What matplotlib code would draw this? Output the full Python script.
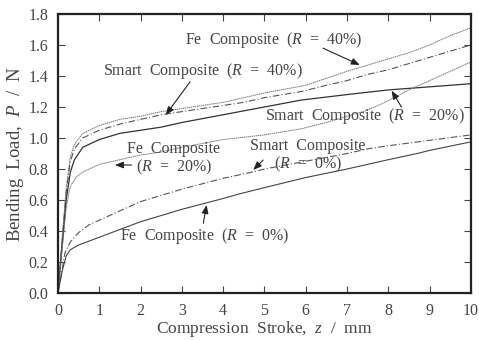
import numpy as np
import matplotlib.pyplot as plt

plt.rcParams['font.family'] = ['Liberation Serif', 'DejaVu Serif']
plt.rcParams['mathtext.fontset'] = 'custom'
plt.rcParams['mathtext.it'] = 'Liberation Serif:italic'
plt.rcParams['mathtext.rm'] = 'Liberation Serif'

# Data (z in mm, P in N)
fe40_z = [0, 0.1, 0.2, 0.3, 0.4, 0.6, 1, 1.5, 2, 2.5, 3, 4, 4.5, 5, 6, 7, 7.5, 8, 8.5, 9, 9.5, 10]
fe40_p = [0, 0.35, 0.68, 0.88, 0.96, 1.03, 1.08, 1.12, 1.14, 1.17, 1.19, 1.23, 1.26, 1.29, 1.34, 1.43, 1.47, 1.51, 1.55, 1.60, 1.66, 1.71]

sm40_z = [0, 0.1, 0.2, 0.3, 0.4, 0.6, 1, 1.5, 2, 2.5, 3, 4, 4.5, 5, 5.9, 6.5, 7, 7.5, 8, 8.5, 9, 9.5, 10]
sm40_p = [0, 0.33, 0.65, 0.85, 0.93, 1.0, 1.05, 1.09, 1.12, 1.15, 1.17, 1.21, 1.23, 1.26, 1.30, 1.34, 1.37, 1.41, 1.44, 1.48, 1.52, 1.56, 1.60]

sm20_z = [0, 0.1, 0.2, 0.3, 0.4, 0.6, 1, 1.5, 2, 2.5, 3, 4, 4.4, 5, 5.9, 7, 8, 9, 10]
sm20_p = [0, 0.3, 0.6, 0.78, 0.86, 0.94, 0.99, 1.03, 1.05, 1.07, 1.10, 1.15, 1.17, 1.20, 1.245, 1.28, 1.31, 1.33, 1.35]

fe20_z = [0, 0.1, 0.2, 0.3, 0.45, 0.6, 1, 1.5, 2, 2.5, 3, 4, 5, 5.9, 6.5, 7, 7.5, 8, 8.5, 9, 9.5, 10]
fe20_p = [0, 0.28, 0.55, 0.69, 0.75, 0.78, 0.83, 0.86, 0.89, 0.91, 0.94, 0.99, 1.02, 1.06, 1.10, 1.14, 1.18, 1.24, 1.31, 1.37, 1.43, 1.49]

sm0_z = [0, 0.1, 0.17, 0.3, 0.5, 0.75, 1, 1.5, 2, 3, 4, 4.7, 5, 6, 7, 7.5, 8, 9, 10]
sm0_p = [0, 0.15, 0.26, 0.33, 0.39, 0.44, 0.47, 0.53, 0.59, 0.67, 0.74, 0.78, 0.80, 0.85, 0.90, 0.93, 0.95, 0.985, 1.02]

fe0_z = [0, 0.1, 0.2, 0.3, 0.5, 1, 1.5, 2, 3, 4, 4.4, 5, 6, 7, 8, 8.7, 9, 10]
fe0_p = [0, 0.14, 0.24, 0.28, 0.31, 0.36, 0.41, 0.46, 0.54, 0.61, 0.64, 0.68, 0.745, 0.80, 0.86, 0.90, 0.92, 0.975]

# labels: text, text centre, arrow start, arrow tip
labels = ['Fe  Composite  ($R$  =  40%)',
          'Smart  Composite  ($R$  =  40%)',
          'Smart  Composite  ($R$  =  20%)',
          'Fe  Composite\n($R$  =  20%)',
          'Smart  Composite\n($R$  =  0%)',
          'Fe  Composite  ($R$  =  0%)']
label_xy = [(5.23, 1.632), (3.51, 1.434), (7.43, 1.142), (2.81, 0.865), (6.06, 0.884), (3.56, 0.368)]
arrow_from = [(6.42, 1.579), (3.20, 1.363), (8.32, 1.20), (1.78, 0.826), (4.97, 0.858), (3.52, 0.45)]
arrow_to = [(7.31, 1.471), (2.61, 1.148), (8.08, 1.305), (1.38, 0.826), (4.73, 0.794), (3.60, 0.568)]

fig = plt.figure(figsize=(4.79, 3.40), dpi=100)
ax = fig.add_axes([0.121, 0.138, 0.862, 0.821])

ax.plot(fe40_z, fe40_p, color='#777777', lw=0.7, ls=(0, (1.5, 0.6)))
ax.plot(sm40_z, sm40_p, color='#555555', lw=0.8, ls=(0, (6, 2, 1, 2)))
ax.plot(sm20_z, sm20_p, color='#333333', lw=0.9)
ax.plot(fe20_z, fe20_p, color='#777777', lw=0.7, ls=(0, (1.5, 0.6)))
ax.plot(sm0_z, sm0_p, color='#555555', lw=0.8, ls=(0, (6, 2, 1, 2)))
ax.plot(fe0_z, fe0_p, color='#444444', lw=0.8)

tc = '#444444'
for txt, xy in zip(labels, label_xy):
    ax.text(xy[0], xy[1], txt, ha='center', va='center', fontsize=11.5,
            color=tc, linespacing=1.0)
for a, b in zip(arrow_from, arrow_to):
    ax.annotate('', xy=b, xytext=a,
                arrowprops=dict(arrowstyle='-|>,head_length=0.5,head_width=0.2',
                                color='#222222', lw=0.8, mutation_scale=10,
                                shrinkA=0, shrinkB=0))

ax.set_xlim(0, 10)
ax.set_ylim(0, 1.8)
ax.set_xticks(np.arange(0, 11, 1))
ax.set_yticks(np.arange(0, 1.81, 0.2))
ax.set_yticklabels([f'{v:.1f}' for v in np.arange(0, 1.81, 0.2)])
ax.tick_params(direction='in', top=True, right=True, length=5, width=0.8,
               labelsize=11.5, colors='#444444', pad=7)
for s in ax.spines.values():
    s.set_linewidth(1.6)
    s.set_color('#222222')

ax.set_xlabel('Compression  Stroke,  $z$  /  mm', fontsize=12.5, color=tc, labelpad=0)
ax.set_ylabel('Bending  Load,  $P$  /  N', fontsize=13.5, color=tc, labelpad=2)

fig.savefig('out.png', dpi=100)
